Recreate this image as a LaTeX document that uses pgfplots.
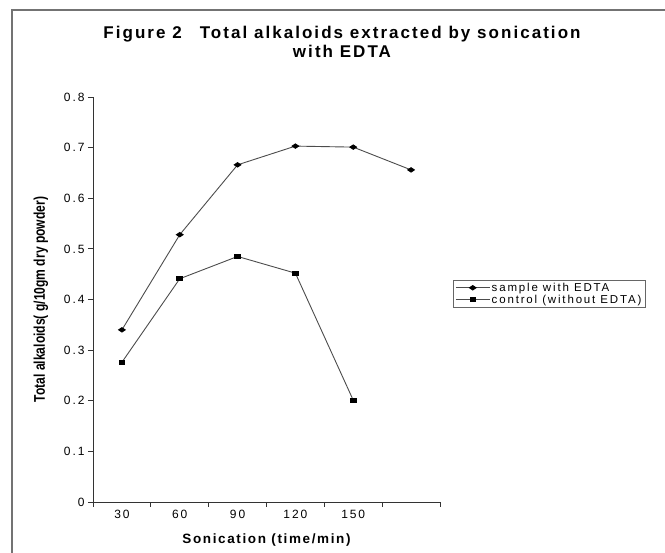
\documentclass[border=0pt]{standalone}
\usepackage{fontspec}
\setmainfont{Liberation Sans}
\newfontfamily\ls[LetterSpace=16]{Liberation Sans}
\newfontfamily\lst[LetterSpace=12]{Liberation Sans}
\newfontfamily\lsx[LetterSpace=12]{Liberation Sans}
\newfontfamily\narrowfont[FakeStretch=0.78]{Liberation Sans}
\usepackage{pgfplots}
\usepackage{pgfplotstable}
\pgfplotsset{compat=1.18}

\pgfplotstableread{
x y
0 0.340
1 0.528
2 0.666
3 0.703
4 0.701
5 0.656
}\sampletab
\pgfplotstableread{
x y
0 0.276
1 0.441
2 0.485
3 0.452
4 0.201
}\controltab

\begin{document}
\begin{tikzpicture}
\path[use as bounding box] (0pt,0pt) rectangle (665pt,553pt);
\draw[black!55, line width=1.5pt] (12pt,0pt) -- (12pt,543pt) -- (666pt,543pt);
\node[anchor=base, inner sep=0pt, font=\lst\bfseries\fontsize{17}{20}\selectfont] at (342pt,514pt) {Figure 2\hspace{18pt}Total alkaloids extracted by sonication};
\node[anchor=base, inner sep=0pt, font=\lst\bfseries\fontsize{17}{20}\selectfont] at (342pt,495pt) {with EDTA};
\begin{axis}[
  at={(93pt,51pt)}, anchor=south west,
  scale only axis, width=347pt, height=405pt,
  xmin=-0.5, xmax=5.5, ymin=0, ymax=0.8,
  axis lines=left,
  axis line style={-, draw=black!80, line width=0.8pt},
  tick align=outside,
  major tick length=5pt,
  tick style={draw=black!80, line width=0.8pt},
  xtick={-0.5,0.5,1.5,2.5,3.5,4.5,5.5},
  x tick label as interval,
  xticklabels={30,60,90,120,150,{}},
  ytick={0,0.1,0.2,0.3,0.4,0.5,0.6,0.7,0.8},
  yticklabels={0,0.1,0.2,0.3,0.4,0.5,0.6,0.7,0.8},
  /pgf/number format/assume math mode=true,
  ticklabel style={font=\ls\fontsize{12}{14}\selectfont},
  xlabel={Sonication (time/min)},
  xlabel style={font=\lsx\bfseries\fontsize{13.5}{16}\selectfont, at={(axis description cs:0.5,-0.094)}, anchor=center},
  ylabel={Total alkaloids( g/10gm dry powder)},
  ylabel style={font=\narrowfont\bfseries\fontsize{15.5}{18}\selectfont, at={(axis description cs:-0.15,0.5)}, anchor=center},
  legend style={at={(axis description cs:1.0375,0.548)}, anchor=north west,
    draw=black!60, line width=0.6pt,
    font=\ls\fontsize{11.5}{13}\selectfont,
    inner xsep=2pt, inner ysep=1pt, row sep=-1pt,
    nodes={inner sep=1.5pt}},
  legend cell align=left,
  legend image code/.code={\draw[mark repeat=2,mark phase=2,#1] plot coordinates {(0pt,0pt) (17pt,0pt) (34pt,0pt)};},
]
\addplot[black!70, line width=0.9pt, mark=diamond*, mark size=2.2pt,
  mark options={xscale=2, fill=black, draw=black, solid}] table[x=x,y=y] {\sampletab};
\addlegendentry{sample with EDTA}
\addplot[black!70, line width=0.9pt, mark=square*, mark size=2.8pt,
  mark options={yscale=0.75, fill=black, draw=black, solid}] table[x=x,y=y] {\controltab};
\addlegendentry{control (without EDTA)}
\end{axis}
\end{tikzpicture}
\end{document}
